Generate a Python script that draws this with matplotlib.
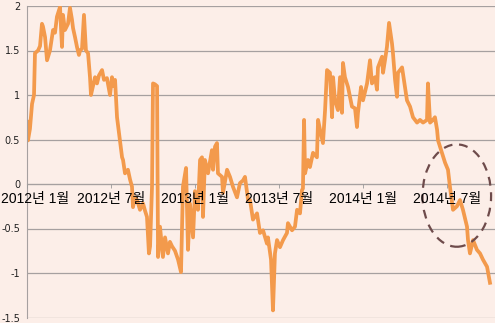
import matplotlib
matplotlib.use("Agg")
import matplotlib.pyplot as plt
from matplotlib.patches import Ellipse
from matplotlib.transforms import ScaledTranslation

plt.rcParams["font.family"] = ["Liberation Sans", "Noto Sans CJK KR", "DejaVu Sans"]

# months since 2012-01
months = [0.0, 0.07, 0.21, 0.36, 0.5, 0.57, 0.79, 0.93, 1.07, 1.14, 1.29, 1.43, 1.64, 1.86, 2.0,
          2.14, 2.36, 2.43, 2.5, 2.57, 2.71, 2.93, 3.07, 3.21, 3.29, 3.43, 3.57, 3.71, 3.79, 3.93,
          4.07, 4.21, 4.36, 4.5, 4.57, 4.64, 4.86, 5.0, 5.14, 5.36, 5.5, 5.71, 5.93, 6.07, 6.14,
          6.29, 6.43, 6.64, 6.79, 6.86, 7.0, 7.21, 7.36, 7.5, 7.57, 7.71, 7.86, 8.07, 8.29, 8.43,
          8.57, 8.71, 8.79, 8.93, 9.0, 9.14, 9.29, 9.36, 9.5, 9.71, 9.86, 10.07, 10.21, 10.36,
          10.57, 10.79, 11.0, 11.14, 11.36, 11.5, 11.64, 11.86, 12.0, 12.21, 12.36, 12.5, 12.57,
          12.71, 12.93, 13.21, 13.29, 13.43, 13.57, 13.64, 13.93, 14.0, 14.29, 14.5, 14.71, 15.0,
          15.21, 15.43, 15.57, 15.79, 15.93, 16.07, 16.14, 16.43, 16.64, 16.86, 17.14, 17.21,
          17.43, 17.57, 17.71, 17.86, 18.07, 18.29, 18.57, 18.64, 18.93, 19.14, 19.29, 19.5,
          19.64, 19.71, 19.79, 19.86, 20.07, 20.21, 20.43, 20.71, 20.79, 20.93, 21.14, 21.29,
          21.43, 21.64, 21.79, 21.86, 22.0, 22.21, 22.36, 22.5, 22.57, 22.71, 22.93, 23.21, 23.43,
          23.57, 23.64, 23.86, 24.0, 24.29, 24.5, 24.64, 24.86, 25.0, 25.07, 25.36, 25.43, 25.57,
          25.71, 25.86, 26.07, 26.14, 26.29, 26.43, 26.5, 26.79, 27.0, 27.14, 27.36, 27.57, 27.86,
          28.07, 28.29, 28.57, 28.64, 28.79, 29.0, 29.14, 29.29, 29.36, 29.64, 29.86, 30.07,
          30.21, 30.43, 30.71, 30.93, 31.14, 31.43, 31.5, 31.64, 31.86, 32.14, 32.36, 32.57,
          32.86, 33.07]
values = [0.70, 0.49, 0.62, 0.90, 1.00, 1.47, 1.50, 1.55, 1.80, 1.77, 1.65, 1.39, 1.50, 1.73, 1.70,
          1.88, 1.99, 1.75, 1.54, 1.90, 1.73, 1.80, 1.98, 1.85, 1.75, 1.65, 1.54, 1.45, 1.50, 1.52,
          1.90, 1.50, 1.47, 1.20, 1.00, 1.05, 1.20, 1.13, 1.22, 1.28, 1.17, 1.19, 1.00, 1.20, 1.10,
          1.17, 0.75, 0.49, 0.30, 0.27, 0.12, 0.16, 0.05, -0.03, -0.26, -0.15, -0.18, -0.29, -0.22, -0.30,
          -0.37, -0.78, -0.70, -0.03, 1.13, 1.12, 1.10, -0.82, -0.48, -0.82, -0.60, -0.78, -0.65, -0.70,
          -0.75, -0.85, -0.99, -0.03, 0.18, -0.74, -0.22, -0.60, -0.08, -0.29, 0.27, 0.30, -0.37,
          0.27, 0.12, 0.38, 0.16, 0.42, 0.46, 0.12, 0.08, -0.10, 0.16, 0.08, -0.03, -0.15,
          0.01, 0.04, 0.08, -0.18, -0.18, -0.33, -0.40, -0.33, -0.55, -0.52, -0.67, -0.60,
          -0.85, -1.42, -0.78, -0.63, -0.71, -0.63, -0.55, -0.44, -0.52, -0.48, -0.29, -0.33,
          -0.07, -0.05, 0.72, 0.12, 0.27, 0.19, 0.35, 0.30, 0.72, 0.61, 0.46, 0.83,
          1.28, 1.25, 0.75, 1.20, 0.94, 0.83, 1.20, 0.80, 1.36, 1.20, 1.09, 0.87, 0.85,
          0.64, 0.80, 1.09, 0.94, 1.13, 1.39, 1.13, 1.20, 1.06, 1.31, 1.43, 1.25, 1.39,
          1.54, 1.81, 1.58, 1.47, 1.17, 0.98, 1.25, 1.31, 1.09, 0.94, 0.87, 0.75, 0.69,
          0.72, 0.69, 0.72, 1.13, 0.69, 0.72, 0.75, 0.61, 0.49, 0.35, 0.24, 0.16,
          -0.03, -0.29, -0.25, -0.18, -0.29, -0.48, -0.63, -0.78, -0.63, -0.74, -0.78, -0.85,
          -0.93, -1.11]

tick_months = [0, 6, 12, 18, 24, 30]
tick_labels = ["2012년 1월", "2012년 7월", "2013년 1월", "2013년 7월", "2014년 1월", "2014년 7월"]
y_ticks = [-1.5, -1, -0.5, 0, 0.5, 1, 1.5, 2]
y_labels = ["-1.5", "-1", "-0.5", "0", "0.5", "1", "1.5", "2"]

bg = "#FCEEE8"
fig = plt.figure(figsize=(4.95, 3.23), dpi=100, facecolor=bg)
ax = fig.add_axes([27 / 495, 5.5 / 323, 468 / 495, 311.5 / 323], facecolor=bg)

ax.plot(months, values, color="#F39A4C", linewidth=2.7, solid_joinstyle="round", zorder=2)

# dashed circle marking the recent drop
ax.add_patch(Ellipse((30.7, -0.13), 4.9, 1.15, fill=False, edgecolor="#6E4B4B",
                     linestyle=(0, (4, 3)), linewidth=1.6, zorder=2.2))

ax.set_xlim(0, 468 / 14)
ax.set_ylim(-1.5, 2)
ax.set_yticks(y_ticks)
ax.set_yticklabels(y_labels, fontsize=7, color="#222222", family=["DejaVu Sans"])
ax.set_xticks(tick_months)
ax.set_xticklabels(tick_labels, fontsize=6.5, fontweight="bold", color="#111111")
ax.tick_params(axis="y", length=0, pad=5)
ax.tick_params(axis="x", length=3, width=0.6, color="#999999", pad=2.5)

ax.grid(axis="y", color="#A6A0A0", linewidth=0.9)
ax.set_axisbelow(True)
# date labels sit on top of the line, like the reference
ax.xaxis.set_zorder(3)
ax.spines["bottom"].set_position(("data", 0))
ax.spines["bottom"].set_color("#A6A0A0")
ax.spines["bottom"].set_zorder(1)
ax.spines["left"].set_color("#A6A0A0")
ax.spines["top"].set_visible(False)
ax.spines["right"].set_visible(False)

# keep the first date label inside the figure, as in the reference
fig.canvas.draw()
first = ax.get_xticklabels()[0]
x0 = first.get_window_extent().x0
if x0 < 1:
    first.set_transform(first.get_transform() +
                        ScaledTranslation((1 - x0) / fig.dpi, 0, fig.dpi_scale_trans))

fig.savefig("out.png", dpi=100, facecolor=bg)
